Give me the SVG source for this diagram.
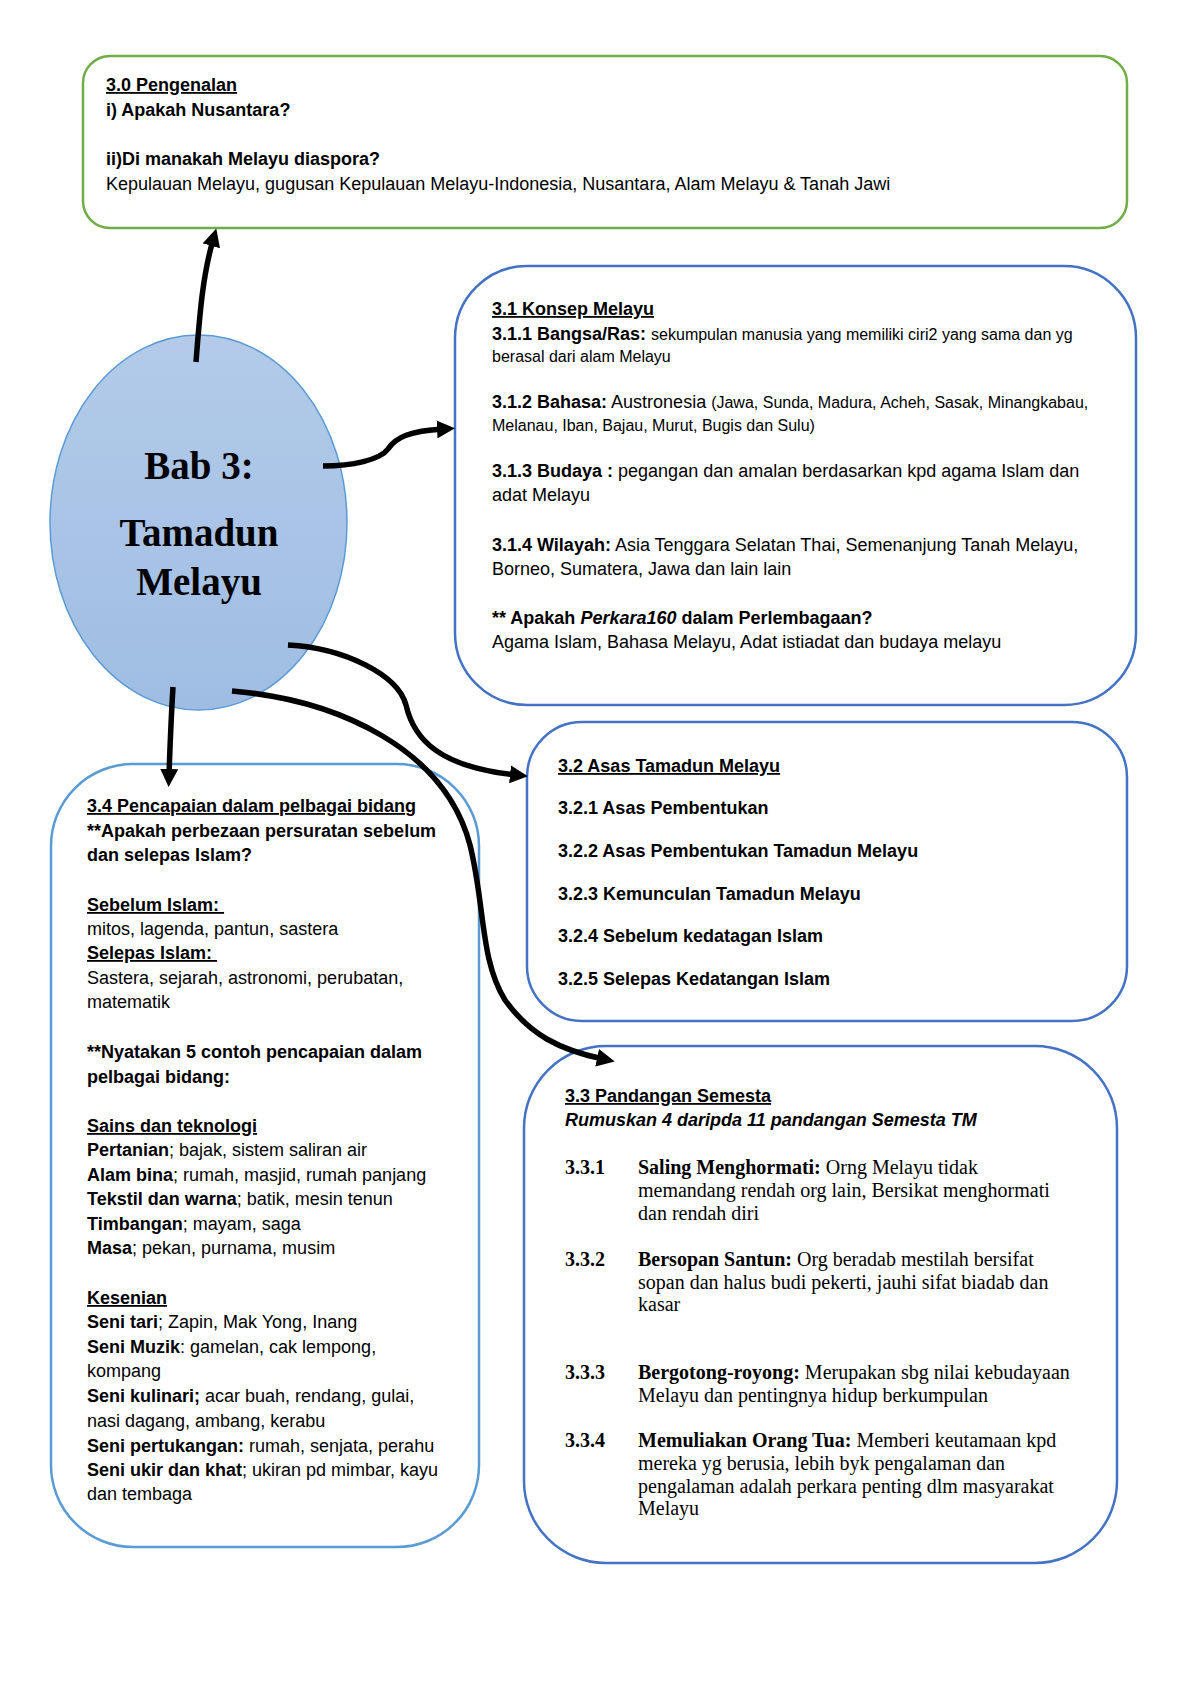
<svg xmlns="http://www.w3.org/2000/svg" width="1200" height="1698" viewBox="0 0 1200 1698">
<style>
.t{font-family:"Liberation Sans",Arial,sans-serif;font-size:18px;fill:#000}
.b{font-weight:bold}
.s{font-size:16px}
.i{font-style:italic}
.u{text-decoration:underline}
.sf{font-family:"Liberation Serif","Times New Roman",serif;font-size:20px;fill:#000}
.box{fill:#fff;stroke-width:2.5}
.dk{stroke:#4472C4}
.lt{stroke:#5B9BD5}
.gr{stroke:#70AD47}
.con path{fill:none;stroke:#000;stroke-width:5.5;marker-end:url(#ah)}
.bab{font-family:"Liberation Serif","Times New Roman",serif;font-weight:bold;font-size:39px;text-anchor:middle}
</style>
<defs>
<marker id="ah" markerUnits="userSpaceOnUse" markerWidth="18" markerHeight="18" refX="6" refY="9" orient="auto" viewBox="0 0 18 18"><path d="M0,0 L18,9 L0,18 z" fill="#000"/></marker>
<linearGradient id="eg" x1="0" y1="0" x2="0" y2="1"><stop offset="0" stop-color="#B3CBE9"/><stop offset="1" stop-color="#9FBDE3"/></linearGradient>
</defs>
<rect width="1200" height="1698" fill="#fff"/>

<g id="n30">
<rect class="box gr" x="83" y="56" width="1044" height="172" rx="27" ry="27"/>
<text class="t b" x="106" y="91"><tspan class="u">3.0 Pengenalan</tspan></text>
<text class="t b" x="106" y="116">i) Apakah Nusantara?</text>
<text class="t b" x="106" y="165">ii)Di manakah Melayu diaspora?</text>
<text class="t" x="106" y="190">Kepulauan Melayu, gugusan Kepulauan Melayu-Indonesia, Nusantara, Alam Melayu &amp; Tanah Jawi</text>
</g>

<g id="n31">
<rect class="box dk" x="455" y="266" width="681" height="439" rx="72" ry="72"/>
<text class="t b" x="492" y="315"><tspan class="u">3.1 Konsep Melayu</tspan></text>
<text class="t" x="492" y="340"><tspan class="b">3.1.1 Bangsa/Ras:</tspan> <tspan class="s">sekumpulan manusia yang memiliki ciri2 yang sama dan yg</tspan></text>
<text class="t s" x="492" y="362">berasal dari alam Melayu</text>
<text class="t" x="492" y="408"><tspan class="b">3.1.2 Bahasa:</tspan> Austronesia <tspan class="s">(Jawa, Sunda, Madura, Acheh, Sasak, Minangkabau,</tspan></text>
<text class="t s" x="492" y="431">Melanau, Iban, Bajau, Murut, Bugis dan Sulu)</text>
<text class="t" x="492" y="477"><tspan class="b">3.1.3 Budaya :</tspan> pegangan dan amalan berdasarkan kpd agama Islam dan</text>
<text class="t" x="492" y="501">adat Melayu</text>
<text class="t" x="492" y="551"><tspan class="b">3.1.4 Wilayah:</tspan> Asia Tenggara Selatan Thai, Semenanjung Tanah Melayu,</text>
<text class="t" x="492" y="575">Borneo, Sumatera, Jawa dan lain lain</text>
<text class="t b" x="492" y="624">** Apakah <tspan class="i">Perkara160</tspan> dalam Perlembagaan?</text>
<text class="t" x="492" y="648">Agama Islam, Bahasa Melayu, Adat istiadat dan budaya melayu</text>
</g>

<g id="n32">
<rect class="box dk" x="527" y="722" width="600" height="299" rx="55" ry="55"/>
<text class="t b" x="558" y="772"><tspan class="u">3.2 Asas Tamadun Melayu</tspan></text>
<text class="t b" x="558" y="814">3.2.1 Asas Pembentukan</text>
<text class="t b" x="558" y="857">3.2.2 Asas Pembentukan Tamadun Melayu</text>
<text class="t b" x="558" y="900">3.2.3 Kemunculan Tamadun Melayu</text>
<text class="t b" x="558" y="942">3.2.4 Sebelum kedatagan Islam</text>
<text class="t b" x="558" y="985">3.2.5 Selepas Kedatangan Islam</text>
</g>

<g id="n34">
<rect class="box lt" x="51" y="764" width="428" height="783" rx="82" ry="82"/>
<text class="t b" x="87" y="812"><tspan class="u">3.4 Pencapaian dalam pelbagai bidang</tspan></text>
<text class="t b" x="87" y="837">**Apakah perbezaan persuratan sebelum</text>
<text class="t b" x="87" y="861">dan selepas Islam?</text>
<text class="t b" x="87" y="911"><tspan class="u">Sebelum Islam:&#160;</tspan></text>
<text class="t" x="87" y="935">mitos, lagenda, pantun, sastera</text>
<text class="t b" x="87" y="959"><tspan class="u">Selepas Islam:&#160;</tspan></text>
<text class="t" x="87" y="984">Sastera, sejarah, astronomi, perubatan,</text>
<text class="t" x="87" y="1008">matematik</text>
<text class="t b" x="87" y="1058">**Nyatakan 5 contoh pencapaian dalam</text>
<text class="t b" x="87" y="1083">pelbagai bidang:</text>
<text class="t b" x="87" y="1132"><tspan class="u">Sains dan teknologi</tspan></text>
<text class="t" x="87" y="1156"><tspan class="b">Pertanian</tspan>; bajak, sistem saliran air</text>
<text class="t" x="87" y="1181"><tspan class="b">Alam bina</tspan>; rumah, masjid, rumah panjang</text>
<text class="t" x="87" y="1205"><tspan class="b">Tekstil dan warna</tspan>; batik, mesin tenun</text>
<text class="t" x="87" y="1230"><tspan class="b">Timbangan</tspan>; mayam, saga</text>
<text class="t" x="87" y="1254"><tspan class="b">Masa</tspan>; pekan, purnama, musim</text>
<text class="t b" x="87" y="1304"><tspan class="u">Kesenian</tspan></text>
<text class="t" x="87" y="1328"><tspan class="b">Seni tari</tspan>; Zapin, Mak Yong, Inang</text>
<text class="t" x="87" y="1353"><tspan class="b">Seni Muzik</tspan>: gamelan, cak lempong,</text>
<text class="t" x="87" y="1377">kompang</text>
<text class="t" x="87" y="1402"><tspan class="b">Seni kulinari;</tspan> acar buah, rendang, gulai,</text>
<text class="t" x="87" y="1427">nasi dagang, ambang, kerabu</text>
<text class="t" x="87" y="1452"><tspan class="b">Seni pertukangan:</tspan> rumah, senjata, perahu</text>
<text class="t" x="87" y="1476"><tspan class="b">Seni ukir dan khat</tspan>; ukiran pd mimbar, kayu</text>
<text class="t" x="87" y="1500">dan tembaga</text>
</g>

<g id="n33">
<rect class="box dk" x="524" y="1046" width="593" height="517" rx="82" ry="82"/>
<text class="t b" x="565" y="1102"><tspan class="u">3.3 Pandangan Semesta</tspan></text>
<text class="t b i" x="565" y="1126">Rumuskan 4 daripda 11 pandangan Semesta TM</text>
<text class="sf b" x="565" y="1174">3.3.1</text>
<text class="sf" x="638" y="1174"><tspan class="b">Saling Menghormati:</tspan> Orng Melayu tidak</text>
<text class="sf" x="638" y="1197">memandang rendah org lain, Bersikat menghormati</text>
<text class="sf" x="638" y="1220">dan rendah diri</text>
<text class="sf b" x="565" y="1266">3.3.2</text>
<text class="sf" x="638" y="1266"><tspan class="b">Bersopan Santun:</tspan> Org beradab mestilah bersifat</text>
<text class="sf" x="638" y="1289">sopan dan halus budi pekerti, jauhi sifat biadab dan</text>
<text class="sf" x="638" y="1311">kasar</text>
<text class="sf b" x="565" y="1379">3.3.3</text>
<text class="sf" x="638" y="1379"><tspan class="b">Bergotong-royong:</tspan> Merupakan sbg nilai kebudayaan</text>
<text class="sf" x="638" y="1402">Melayu dan pentingnya hidup berkumpulan</text>
<text class="sf b" x="565" y="1447">3.3.4</text>
<text class="sf" x="638" y="1447"><tspan class="b">Memuliakan Orang Tua:</tspan> Memberi keutamaan kpd</text>
<text class="sf" x="638" y="1470">mereka yg berusia, lebih byk pengalaman dan</text>
<text class="sf" x="638" y="1493">pengalaman adalah perkara penting dlm masyarakat</text>
<text class="sf" x="638" y="1515">Melayu</text>
</g>

<g id="center">
<ellipse cx="198.5" cy="522.5" rx="148.5" ry="187.5" fill="url(#eg)" stroke="#5B9BD5" stroke-width="1.5"/>
<text class="bab" x="199" y="479">Bab 3:</text>
<text class="bab" x="199" y="546">Tamadun</text>
<text class="bab" x="199" y="595">Melayu</text>
</g>

<g id="connectors" class="con">
<path d="M196,362 C200,310 203,275 213,240"/>
<path d="M323,466 C352,466 380,460 388,449 C396,437 410,431 443,429"/>
<path d="M288,645 C345,648 398,675 406,705 C414,740 440,767 516,775"/>
<path d="M232,691 C340,700 445,750 470,845 C485,905 480,960 505,1000 C530,1035 560,1050 603,1059"/>
<path d="M173,687 C171,720 170,745 169,775"/>
</g>
</svg>
